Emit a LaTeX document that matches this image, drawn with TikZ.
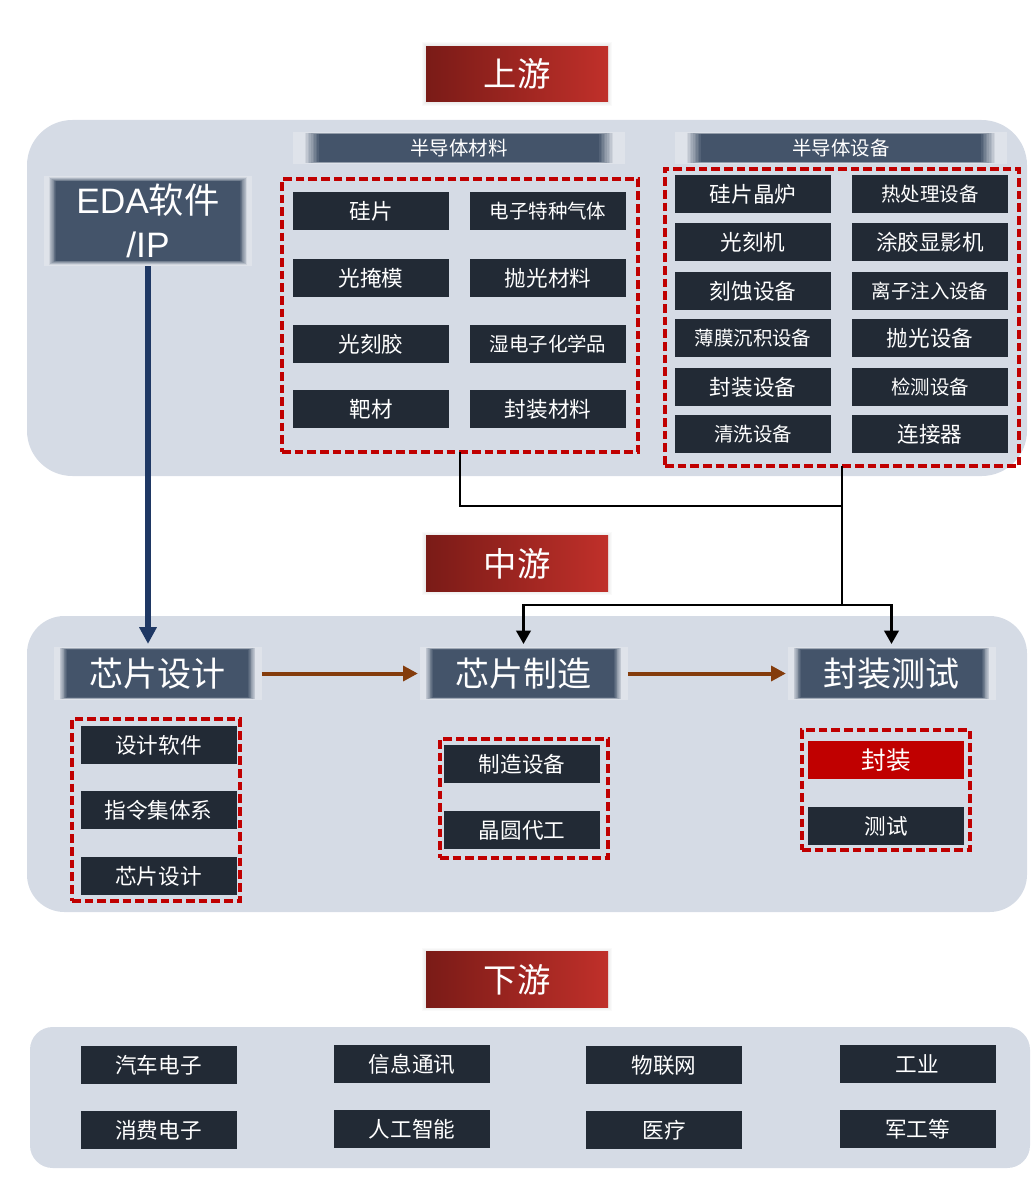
\documentclass[tikz,border=0pt]{standalone}
\usepackage{fontspec}
\setmainfont{Noto Sans CJK SC}
\newfontfamily\latinfont{Liberation Sans}
\usetikzlibrary{arrows.meta}
\definecolor{panelgray}{HTML}{D5DBE5}
\definecolor{itemdark}{HTML}{222A35}
\definecolor{softblue}{HTML}{44546A}
\definecolor{softpale}{HTML}{DFE3EA}
\definecolor{dashred}{HTML}{C00000}
\definecolor{titledark}{HTML}{7A1B17}
\definecolor{titlelight}{HTML}{C0302A}
\definecolor{flownavy}{HTML}{1F3864}
\definecolor{flowbrown}{HTML}{843C0C}
\newcommand{\smalltxt}{\fontsize{14.6}{18}\selectfont}
\tikzset{
    panel/.style={fill=panelgray, rounded corners=#1},
    titlebox/.style={left color=titledark, right color=titlelight, text=white, minimum width=136.5pt,
        minimum height=41.5pt, inner sep=0pt, font=\fontsize{25}{30}\selectfont},
    itembox/.style={fill=itemdark, text=white, minimum width=117pt, minimum height=28.5pt,
        inner sep=0pt, font=\fontsize{16.2}{20}\selectfont},
    % side inset, side fade, top and bottom fade
    softbox/.style n args={3}{fill=softpale, text=white, inner sep=0pt, align=center, path picture={
        \foreach \k in {0,...,10} {
            \pgfmathsetmacro{\pct}{\k*10}
            \fill[softblue!\pct!softpale]
                ([xshift={#1+\k*#2/10},yshift={-.6pt-\k*#3/10}]path picture bounding box.north west) rectangle
                ([xshift={-#1-\k*#2/10},yshift={.6pt+\k*#3/10}]path picture bounding box.south east);
        }
    }},
    groupbox/.style n args={2}{draw=dashred, line width=2.3pt, dash pattern=on 6.5pt off 3pt,
        minimum width=#1, minimum height=#2, inner sep=0pt, outer sep=0pt},
    busline/.style={draw=black, line width=1.6pt},
    bustip/.style={busline, -{Triangle[length=10pt,width=11pt]}, shorten >=2pt},
    brownflow/.style={draw=flowbrown, line width=3pt, -{Triangle[length=11pt,width=11pt]}, shorten >=1pt},
}
\begin{document}
\begin{tikzpicture}[x=0.75pt,y=-0.75pt]
    \useasboundingbox (0,0) rectangle (1035,1191);

    % Background panels
    \fill[panel=34pt] (27,120) rectangle (1027,476);
    \fill[panel=28pt] (27,616) rectangle (1027,912);
    \fill[panel=17pt] (30,1027) rectangle (1030,1168);

    % Section titles with a soft shadow behind
    \foreach \cy in {74,563.5,979.5}
        \foreach \k in {1,...,4}
            \fill[black!40, opacity=0.05] (426-\k,\cy-27.7-\k) rectangle (608+\k,\cy+27.7+\k);
    \node[titlebox] (upTitle) at (517,74) {上游};
    \node[titlebox] (midTitle) at (517,563.5) {中游};
    \node[titlebox] (downTitle) at (517,979.5) {下游};

    % Upstream headers
    \node[softbox={7.5pt}{12pt}{1pt}, minimum width=249pt, minimum height=24pt, font=\fontsize{14.6}{18}\selectfont] (matHead) at (459,148) {半导体材料};
    \node[softbox={7.5pt}{12pt}{1pt}, minimum width=249pt, minimum height=24pt, font=\fontsize{14.6}{18}\selectfont] (equipHead) at (841,148) {半导体设备};
    \node[softbox={3pt}{6pt}{3.5pt}, minimum width=156pt, minimum height=67.5pt, font=\fontsize{26.5}{33}\selectfont] (eda) at (148,221) {{\latinfont EDA}软件\\{\latinfont /IP}};

    % Dashed groups
    \node[groupbox={267pt}{204.75pt}] (matGroup) at (460,315.5) {};
    \node[groupbox={265.5pt}{222.75pt}] (equipGroup) at (842,317.5) {};
    \node[groupbox={126pt}{136.5pt}] (designGroup) at (156,810) {};
    \node[groupbox={126pt}{89.25pt}] (fabGroup) at (524,798.5) {};
    \node[groupbox={126pt}{90pt}] (packGroup) at (886,790) {};

    % Upstream items
    \foreach \nm/\cx/\cy/\txt in {
        matA/371/211/硅片, matB/548/211/\smalltxt 电子特种气体,
        matC/371/278/光掩模, matD/548/278/抛光材料,
        matE/371/344/光刻胶, matF/548/344/\smalltxt 湿电子化学品,
        matG/371/409/靶材, matH/548/409/封装材料,
        equipA/753/194/硅片晶炉, equipB/930/194/\smalltxt 热处理设备,
        equipC/753/242/光刻机, equipD/930/242/涂胶显影机,
        equipE/753/291/刻蚀设备, equipF/930/291/\smalltxt 离子注入设备,
        equipG/753/338/\smalltxt 薄膜沉积设备, equipH/930/338/抛光设备,
        equipI/753/387/封装设备, equipJ/930/387/\smalltxt 检测设备,
        equipK/753/434/\smalltxt 清洗设备, equipL/930/434/连接器}
        \node[itembox] (\nm) at (\cx,\cy) {\txt};

    % Midstream headers
    \node[softbox={4pt}{6pt}{1.5pt}, minimum width=156pt, minimum height=40pt, font=\fontsize{25.5}{30}\selectfont] (designHead) at (157.5,673.5) {芯片设计};
    \node[softbox={4pt}{6pt}{1.5pt}, minimum width=156pt, minimum height=40pt, font=\fontsize{25.5}{30}\selectfont] (fabHead) at (523.5,673.5) {芯片制造};
    \node[softbox={4pt}{6pt}{1.5pt}, minimum width=156pt, minimum height=40pt, font=\fontsize{25.5}{30}\selectfont] (packHead) at (891.5,673.5) {封装测试};

    % Midstream items
    \foreach \nm/\cx/\cy/\txt in {
        designA/158.5/745/设计软件, designB/158.5/810/指令集体系, designC/158.5/876/芯片设计,
        fabA/522/764/制造设备, fabB/522/830/晶圆代工,
        packB/886/826/测试}
        \node[itembox] (\nm) at (\cx,\cy) {\txt};
    \node[itembox, fill=dashred, font=\fontsize{18.5}{22}\selectfont] (packA) at (886,760) {封装};

    % Downstream items
    \foreach \nm/\cx/\cy/\txt in {
        useA/158.5/1065/汽车电子, useB/412/1064/信息通讯, useC/664/1065/物联网, useD/917.5/1064/工业,
        useE/158.5/1130/消费电子, useF/412/1129/人工智能, useG/664/1130/医疗, useH/917.5/1129/军工等}
        \node[itembox] (\nm) at (\cx,\cy) {\txt};

    % Connectors
    \coordinate (busA) at (842,506);
    \coordinate (busB) at (842,605);
    \draw[flownavy, line width=4.5pt, -{Triangle[length=12.5pt,width=12.5pt]}, shorten >=2pt] (eda.south) -- (eda.south |- designHead.north);
    \draw[busline] (matGroup.south) |- (busA);
    \draw[busline] (equipGroup.south) -- (busB);
    \draw[bustip] (busB) -| (fabHead.north);
    \draw[bustip] (busB) -| (packHead.north);
    \draw[brownflow] (designHead.east) -- (fabHead.west);
    \draw[brownflow] (fabHead.east) -- (packHead.west);
\end{tikzpicture}
\end{document}
